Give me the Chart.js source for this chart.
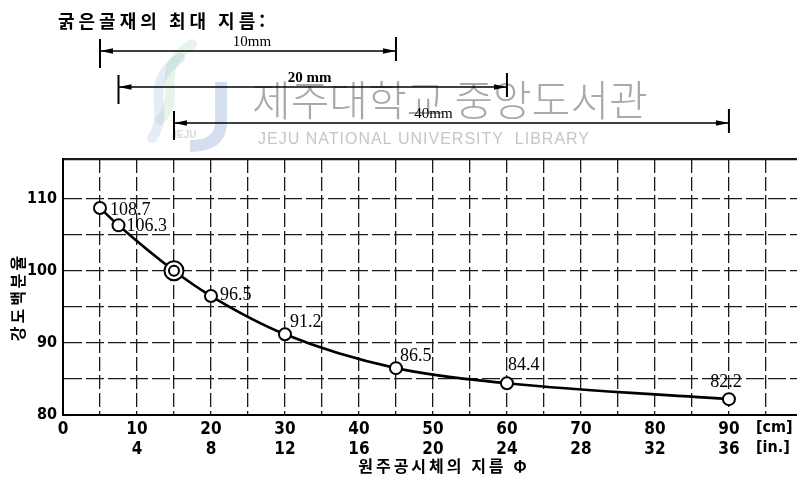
<!DOCTYPE html>
<html lang="ko">
<head>
<meta charset="utf-8">
<title>원주공시체의 지름과 강도</title>
<script src="https://cdn.jsdelivr.net/npm/chart.js@4.4.1/dist/chart.umd.min.js"></script>
<style>
  html, body { margin: 0; padding: 0; background: #fff; }
  #wrap { width: 797px; height: 494px; }
</style>
</head>
<body>
<div id="wrap"><canvas id="sizeChart" width="797" height="494"></canvas></div>
<script>
// specimen diameter (cm) and strength as % of the 15 cm specimen
const diameterCm = [5, 7.5, 15, 20, 30, 45, 60, 90];
const strengthPct = [108.7, 106.3, 100, 96.5, 91.2, 86.5, 84.4, 82.2];
const referenceIndex = 2;

const cmTicks = [0, 10, 20, 30, 40, 50, 60, 70, 80, 90];
const inchTicks = [null, 4, 8, 12, 16, 20, 24, 28, 32, 36];
const strengthTicks = [80, 90, 100, 110];

// max coarse aggregate size -> usable diameter range
const aggregateLabels = ['10mm', '20 mm', '40mm'];
const aggregateFrom = [5, 7.5, 15];
const aggregateTo = [45, 60, 90];

const X_MAX = 99.2;
const Y_MAX = 115.5;

// where each value label sits relative to its point
const labelPlace = [
  { dx: 10, dy: 2, align: 'left' },
  { dx: 8, dy: 1, align: 'left' },
  null,
  { dx: 9, dy: -1, align: 'left' },
  { dx: 5, dy: -12, align: 'left' },
  { dx: 4, dy: -12, align: 'left' },
  { dx: 1, dy: -18, align: 'left' },
  { dx: -3, dy: -17, align: 'center' }
];
const dimRowY = [51, 87, 123];
const dimLabelShift = [4, -3, -18];

const KR = '"Noto Sans CJK KR", "Noto Sans", sans-serif';
const NUM = '"Liberation Sans Narrow", "DejaVu Sans Condensed", "Liberation Sans", sans-serif';
const SERIF = '"Liberation Serif", "DejaVu Serif", serif';

function arrowHead(ctx, x, y, dir) {
  ctx.beginPath();
  ctx.moveTo(x, y);
  ctx.lineTo(x + dir * 13, y - 2.8);
  ctx.lineTo(x + dir * 13, y + 2.8);
  ctx.closePath();
  ctx.fill();
}

// faint library emblem behind the heading
function drawEmblem(ctx) {
  ctx.save();
  ctx.lineCap = 'round';
  ctx.lineWidth = 10;
  ctx.strokeStyle = 'rgba(150, 200, 160, 0.22)';
  ctx.beginPath();
  ctx.moveTo(192, 44);
  ctx.bezierCurveTo(150, 70, 185, 95, 160, 120);
  ctx.stroke();
  ctx.strokeStyle = 'rgba(130, 175, 215, 0.22)';
  ctx.beginPath();
  ctx.moveTo(180, 58);
  ctx.bezierCurveTo(140, 85, 172, 110, 152, 138);
  ctx.stroke();
  ctx.lineCap = 'butt';
  ctx.lineWidth = 12;
  ctx.strokeStyle = 'rgba(110, 145, 200, 0.3)';
  ctx.beginPath();
  ctx.moveTo(221, 82);
  ctx.lineTo(221, 125);
  ctx.quadraticCurveTo(219, 146, 190, 146);
  ctx.stroke();
  ctx.fillStyle = 'rgba(160, 160, 160, 0.4)';
  ctx.font = 'bold 10px "Liberation Sans", sans-serif';
  ctx.textAlign = 'center';
  ctx.fillText('JEJU', 184, 138);
  ctx.restore();
}

const decorPlugin = {
  id: 'decor',
  beforeDraw(chart) {
    const ctx = chart.ctx;
    ctx.save();
    ctx.fillStyle = '#fff';
    ctx.fillRect(0, 0, chart.width, chart.height);
    drawEmblem(ctx);
    // library stamp in the background
    ctx.fillStyle = '#a9a9a9';
    ctx.font = '300 42px ' + KR;
    ctx.textBaseline = 'middle';
    ctx.textAlign = 'left';
    ctx.fillText('제주대학교 중앙도서관', 252, 100);
    ctx.fillStyle = '#c6c6c6';
    ctx.font = '16px "Liberation Sans", sans-serif';
    ctx.letterSpacing = '1px';
    ctx.fillText('JEJU NATIONAL UNIVERSITY  LIBRARY', 258, 140);
    ctx.restore();
  },
  afterDraw(chart) {
    const ctx = chart.ctx;
    const xs = chart.scales.x;
    ctx.save();
    ctx.fillStyle = '#000';
    ctx.strokeStyle = '#000';

    // heading
    ctx.font = 'bold 18px ' + KR;
    ctx.letterSpacing = '4px';
    ctx.textAlign = 'left';
    ctx.textBaseline = 'middle';
    ctx.fillText('굵은골재의 최대 지름:', 58, 21);
    ctx.letterSpacing = '0px';

    // dimension lines for each aggregate size
    aggregateLabels.forEach((lab, i) => {
      const x1 = xs.getPixelForValue(aggregateFrom[i]);
      const x2 = xs.getPixelForValue(aggregateTo[i]);
      const y = dimRowY[i];
      ctx.lineWidth = 1.6;
      ctx.beginPath();
      ctx.moveTo(x1, y);
      ctx.lineTo(x2, y);
      ctx.stroke();
      ctx.lineWidth = 2;
      ctx.beginPath();
      ctx.moveTo(x1, y - 12);
      ctx.lineTo(x1, y + 17);
      ctx.moveTo(x2, y - 14);
      ctx.lineTo(x2, y + 10);
      ctx.stroke();
      arrowHead(ctx, x1, y, 1);
      arrowHead(ctx, x2, y, -1);
      ctx.font = (i === 1 ? 'bold 15px ' : '15px ') + SERIF;
      ctx.textAlign = 'center';
      ctx.fillText(lab, (x1 + x2) / 2 + dimLabelShift[i], y - 9);
    });

    // axis titles and units
    ctx.font = 'bold 16px ' + KR;
    ctx.textAlign = 'center';
    ctx.letterSpacing = '3px';
    ctx.fillText('원주공시체의 지름 Φ', 444, 466);
    ctx.save();
    ctx.translate(18, 297);
    ctx.rotate(-Math.PI / 2);
    ctx.letterSpacing = '3px';
    ctx.fillText('강도백분율', 0, 0);
    ctx.restore();
    ctx.letterSpacing = '0px';

    ctx.font = 'bold 16px ' + NUM;
    ctx.textAlign = 'left';
    ctx.fillText('[cm]', 756, 428);
    ctx.fillText('[in.]', 756, 448);
    ctx.restore();
  },
  afterDatasetsDraw(chart) {
    const ctx = chart.ctx;
    const pts = chart.getDatasetMeta(0).data;
    ctx.save();
    ctx.fillStyle = '#000';
    ctx.font = '18px ' + SERIF;
    ctx.textBaseline = 'middle';
    pts.forEach((p, i) => {
      const place = labelPlace[i];
      if (i === referenceIndex || !place) return;
      ctx.textAlign = place.align;
      ctx.fillText(strengthPct[i].toFixed(1), p.x + place.dx, p.y + place.dy);
    });
    ctx.restore();
  }
};

const points = diameterCm.map((d, i) => ({ x: d, y: strengthPct[i] }));

new Chart(document.getElementById('sizeChart'), {
  type: 'line',
  data: {
    datasets: [
      {
        data: points,
        borderColor: '#000',
        borderWidth: 2.6,
        cubicInterpolationMode: 'monotone',
        pointRadius: points.map((_, i) => i === referenceIndex ? 9.5 : 6),
        pointBorderWidth: 2,
        pointBorderColor: '#000',
        pointBackgroundColor: '#fff',
        order: 1
      },
      {
        // inner ring of the 15 cm reference specimen
        data: [points[referenceIndex]],
        showLine: false,
        pointRadius: 5,
        pointBorderWidth: 2,
        pointBorderColor: '#000',
        pointBackgroundColor: '#fff',
        order: 0
      }
    ]
  },
  options: {
    responsive: false,
    animation: false,
    layout: { autoPadding: false, padding: { top: 159, right: 0, left: 0, bottom: 0 } },
    plugins: { legend: { display: false }, tooltip: { enabled: false } },
    scales: {
      x: {
        type: 'linear',
        min: 0,
        max: X_MAX,
        afterBuildTicks(scale) {
          const t = [];
          cmTicks.forEach(v => { t.push({ value: v }); t.push({ value: v + 5 }); });
          scale.ticks = t;
        },
        afterFit(scale) {
          scale.height = 79;
          scale.paddingLeft = 0;
          scale.paddingRight = 0;
        },
        grid: { color: '#1a1a1a', lineWidth: 1.3, drawTicks: false },
        border: { color: '#000', width: 2, dash: [14, 4] },
        ticks: {
          autoSkip: false,
          maxRotation: 0,
          padding: 4,
          color: '#000',
          font: { family: NUM, size: 17, weight: 'bold', lineHeight: 1.2 },
          callback(value) {
            const i = cmTicks.indexOf(value);
            if (i < 0) return '';
            return inchTicks[i] == null ? String(value) : [String(value), String(inchTicks[i])];
          }
        }
      },
      y: {
        min: 80,
        max: Y_MAX,
        afterBuildTicks(scale) {
          const t = [];
          strengthTicks.forEach(v => { t.push({ value: v }); t.push({ value: v + 5 }); });
          t.pop();
          t.push({ value: Y_MAX });
          scale.ticks = t;
        },
        afterFit(scale) { scale.width = 63; },
        grid: { color: '#1a1a1a', lineWidth: ctx => ctx.tick && ctx.tick.value === Y_MAX ? 2.2 : 1.3, drawTicks: false },
        border: {
          color: '#000',
          width: 2,
          dash: ctx => ctx.tick && ctx.tick.value === Y_MAX ? [] : [18, 4]
        },
        ticks: {
          padding: 6,
          color: '#000',
          font: { family: NUM, size: 16, weight: 'bold' },
          callback(value) {
            return strengthTicks.includes(value) ? String(value) : '';
          }
        }
      }
    }
  },
  plugins: [decorPlugin]
});
</script>
</body>
</html>
